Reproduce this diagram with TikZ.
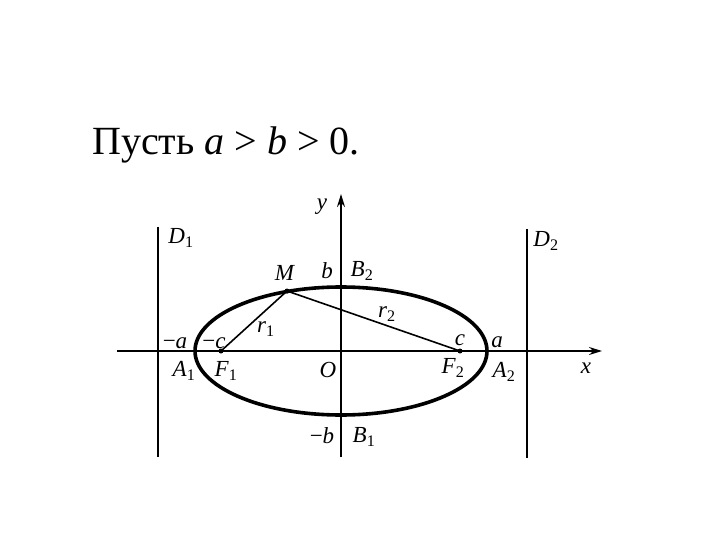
\documentclass[tikz,border=0pt]{standalone}
\usepackage{fontspec}
\setmainfont{Liberation Serif}
\usetikzlibrary{calc,arrows.meta}

% italic letter with upright index
\newcommand{\ptlab}[2]{\textit{#1}\textsubscript{#2}}

\tikzset{
    axis/.style={line width=1.8pt, -{Stealth[length=13pt,width=8pt]}},
    lbl/.style={font=\fontsize{23}{25}\selectfont, inner sep=0pt},
    dot/.style={circle, fill, inner sep=0pt, minimum size=5pt},
}

\begin{document}
\begin{tikzpicture}[x=1pt, y=-1pt]
\useasboundingbox (0,0) rectangle (720,540);

% title
\node[anchor=base west, inner sep=0pt, font=\fontsize{40}{48}\selectfont] (title) at (92,155)
    {Пусть \textit{a} > \textit{b} > 0.};

% axes and centre
\coordinate (O) at (341,351);
\coordinate (X0) at (117,351);
\coordinate (X1) at (602,351);
\coordinate (Y0) at (341,457);
\coordinate (Y1) at (341,194);
\draw[axis] (X0) -- (X1);
\draw[axis] (Y0) -- (Y1);

% directrices
\coordinate (D1 top) at (158,227);
\coordinate (D1 bot) at (158,457);
\coordinate (D2 top) at (527,229);
\coordinate (D2 bot) at (527,458);
\draw[line width=2.6pt] (D1 top) -- (D1 bot);
\draw[line width=2.6pt] (D2 top) -- (D2 bot);

% ellipse
\draw[line width=3.6pt] (O) ellipse [x radius=146pt, y radius=64pt];

% foci and point M
\node[dot] (F1) at (221,351) {};
\node[dot] (F2) at (460,351) {};
\node[dot] (M) at (287,291) {};
\draw[line width=1.6pt] (F1.center) -- (M.center) -- (F2.center);

% labels
\node[lbl] (y lbl) at (322,207) {\textit{y}};
\node[lbl] (x lbl) at (586,368) {\textit{x}};
\node[lbl] (D1 lbl) at (181,238) {\ptlab{D}{1}};
\node[lbl] (D2 lbl) at (546,241) {\ptlab{D}{2}};
\node[lbl] (M lbl) at (285,273) {\textit{M}};
\node[lbl] (b lbl) at (327,271) {\textit{b}};
\node[lbl] (B2 lbl) at (362,271) {\ptlab{B}{2}};
\node[lbl] (r1 lbl) at (266,329) {\ptlab{r}{1}};
\node[lbl] (r2 lbl) at (387,314) {\ptlab{r}{2}};
\node[lbl] (ma lbl) at (175,343) {−\textit{a}};
\node[lbl] (mc lbl) at (214,343) {−\textit{c}};
\node[lbl] (c lbl) at (460,340) {\textit{c}};
\node[lbl] (a lbl) at (497,342) {\textit{a}};
\node[lbl] (A1 lbl) at (184,371) {\ptlab{A}{1}};
\node[lbl] (F1 lbl) at (226,371) {\ptlab{F}{1}};
\node[lbl] (O lbl) at (328,370) {\textit{O}};
\node[lbl] (F2 lbl) at (453,368) {\ptlab{F}{2}};
\node[lbl] (A2 lbl) at (504,372) {\ptlab{A}{2}};
\node[lbl] (mb lbl) at (322,436) {−\textit{b}};
\node[lbl] (B1 lbl) at (364,437) {\ptlab{B}{1}};
\end{tikzpicture}
\end{document}
